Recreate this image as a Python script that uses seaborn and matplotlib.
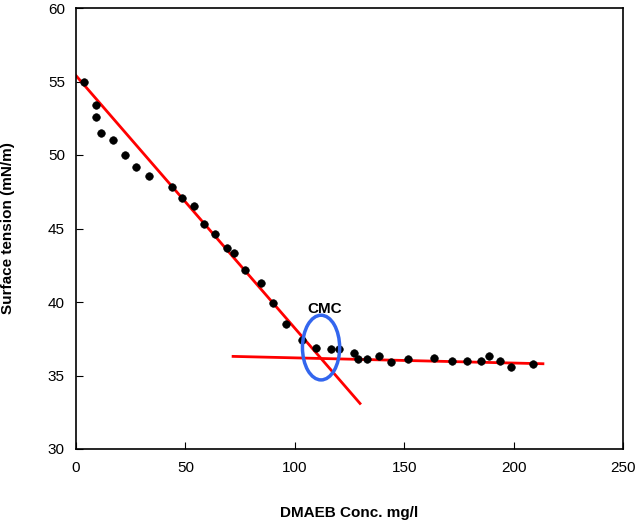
import matplotlib
matplotlib.use("Agg")
import matplotlib.pyplot as plt
import matplotlib.patches as mpatches
import seaborn as sns
import pandas as pd

# data
conc = [3.7, 9.1, 9.1, 11.4, 16.9, 22.4, 27.4, 33.4, 43.9, 48.4, 53.9, 58.5, 63.5,
        69.0, 72.2, 77.2, 84.6, 90.0, 96.0, 103.3, 109.7, 116.5, 120.2, 127.0, 128.9,
        133.0, 138.5, 144.0, 151.7, 163.6, 171.8, 178.7, 185.0, 188.7, 193.8, 198.8, 209.0]
tension = [55.0, 53.4, 52.6, 51.5, 51.0, 50.0, 49.2, 48.6, 47.8, 47.1, 46.5, 45.3, 44.6,
           43.7, 43.3, 42.2, 41.3, 39.9, 38.5, 37.4, 36.9, 36.8, 36.8, 36.5, 36.1,
           36.1, 36.3, 35.9, 36.1, 36.2, 36.0, 36.0, 36.0, 36.3, 36.0, 35.6, 35.8]
fit1_x = [0, 129.8]
fit1_y = [55.4, 33.1]
fit2_x = [71.8, 213.4]
fit2_y = [36.3, 35.8]
cmc_x, cmc_y = 112, 36.9

df = pd.DataFrame({"conc": conc, "tension": tension})

fig = plt.figure(figsize=(6.39, 5.27), dpi=100)
ax = fig.add_axes([76/639, 78/527, 547/639, 441/527])
ax.plot(fit1_x, fit1_y, color="#ff0000", lw=2)
ax.plot(fit2_x, fit2_y, color="#ff0000", lw=2)
sns.scatterplot(data=df, x="conc", y="tension", ax=ax, color="black", s=30,
                marker="o", edgecolor="black", zorder=3)
ax.add_patch(mpatches.Ellipse((cmc_x, cmc_y), 17, 4.4, fill=False,
                              edgecolor="#3366ee", lw=2.5, zorder=4))
ax.text(cmc_x + 1.5, cmc_y + 2.6, "CMC", fontsize=11, fontweight="bold",
        ha="center", va="center", family="Liberation Sans")

ax.set_xlim(0, 250)
ax.set_ylim(30, 60)
ax.set_xticks(range(0, 251, 50))
ax.set_yticks(range(30, 61, 5))
ax.tick_params(labelsize=11, direction="in", length=5)
ax.tick_params(axis="x", pad=9)
ax.tick_params(axis="y", pad=8)
for lab in ax.get_xticklabels() + ax.get_yticklabels():
    lab.set_family("Liberation Sans")
ax.set_xlabel("DMAEB Conc. mg/l", fontsize=11, fontweight="bold",
              family="Liberation Sans", labelpad=22)
ax.set_ylabel("Surface tension (mN/m)", fontsize=11, fontweight="bold",
              family="Liberation Sans", labelpad=24)
for s in ax.spines.values():
    s.set_linewidth(1.2)

fig.savefig("out.png", dpi=100, facecolor="white")
